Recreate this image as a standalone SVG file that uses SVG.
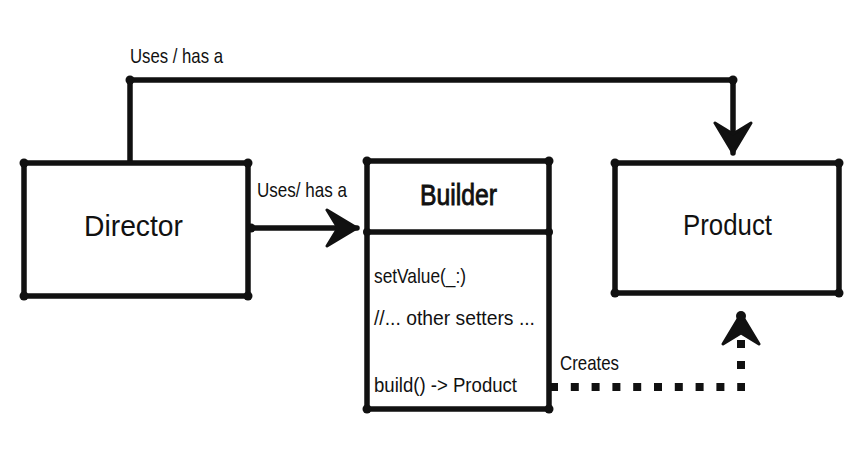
<svg xmlns="http://www.w3.org/2000/svg" width="868" height="458" viewBox="0 0 868 458">
  <style>
    .box { fill: #ffffff; stroke: #111; stroke-width: 5.5; stroke-linejoin: round; stroke-linecap: round; }
    .dot { fill: #111; }
    .line { fill: none; stroke: #111; stroke-width: 5.5; stroke-linejoin: round; stroke-linecap: round; }
    .dash { fill: none; stroke: #111; stroke-width: 8; stroke-linecap: butt; }
    .t { font-family: "Liberation Sans", Arial, sans-serif; fill: #111; }
    .big { font-size: 30px; }
    .small { font-size: 21px; }
  </style>
  <defs>
    <marker id="arrow" viewBox="-2 -2 34 40" refX="30" refY="18" markerWidth="34" markerHeight="40" markerUnits="userSpaceOnUse" orient="auto">
      <path d="M0,0 L30,18 L0,36 L11,18 Z" fill="#111" stroke="#111" stroke-width="3" stroke-linejoin="round"/>
    </marker>
  </defs>
  <rect width="868" height="458" fill="#ffffff"/>

  <g id="connectors">
    <g id="director-product">
      <path class="line" d="M130,161 V80 H733 V153" marker-end="url(#arrow)"/>
      <circle class="dot" cx="130" cy="80" r="4.5"/>
      <circle class="dot" cx="733" cy="80" r="4.5"/>
      <text class="t small" x="130" y="63" textLength="93" lengthAdjust="spacingAndGlyphs">Uses / has a</text>
    </g>
    <g id="director-builder">
      <path class="line" d="M249,228 H357" marker-end="url(#arrow)"/>
      <circle class="dot" cx="251" cy="228" r="4.5"/>
      <text class="t small" x="257" y="197" textLength="90" lengthAdjust="spacingAndGlyphs">Uses/ has a</text>
    </g>
    <g id="builder-product">
      <path class="dash" d="M550,387 H745" stroke-dasharray="8 12.8"/>
      <path class="dash" d="M741,369 V314" stroke-dasharray="8 13"/>
      <path class="line" d="M741,330 V314" marker-end="url(#arrow)" style="stroke-width:0"/>
      <circle class="dot" cx="741" cy="316" r="5"/>
      <text class="t small" x="560" y="370" textLength="59" lengthAdjust="spacingAndGlyphs">Creates</text>
    </g>
  </g>

  <g id="director">
    <rect class="box" x="24" y="163" width="224" height="133"/>
    <circle class="dot" cx="24" cy="163" r="4.5"/>
    <circle class="dot" cx="248" cy="163" r="4.5"/>
    <circle class="dot" cx="24" cy="296" r="4.5"/>
    <circle class="dot" cx="248" cy="296" r="4.5"/>
    <text class="t big" x="84" y="236" textLength="99" lengthAdjust="spacingAndGlyphs">Director</text>
  </g>

  <g id="builder">
    <rect class="box" x="367" y="161" width="182" height="248"/>
    <line class="line" x1="367" y1="232" x2="549" y2="232"/>
    <circle class="dot" cx="367" cy="161" r="4.5"/>
    <circle class="dot" cx="549" cy="161" r="4.5"/>
    <circle class="dot" cx="367" cy="409" r="4.5"/>
    <circle class="dot" cx="549" cy="409" r="4.5"/>
    <circle class="dot" cx="367" cy="232" r="4"/>
    <circle class="dot" cx="549" cy="232" r="4"/>
    <text class="t big" x="420" y="205" stroke="#111" stroke-width="0.9" textLength="77" lengthAdjust="spacingAndGlyphs">Builder</text>
    <text class="t small" x="374" y="283" textLength="92" lengthAdjust="spacingAndGlyphs">setValue(_:)</text>
    <text class="t small" x="374" y="325" textLength="161" lengthAdjust="spacingAndGlyphs">//... other setters ...</text>
    <text class="t small" x="374" y="392" textLength="143" lengthAdjust="spacingAndGlyphs">build() -&gt; Product</text>
  </g>

  <g id="product">
    <rect class="box" x="615" y="163" width="224" height="130"/>
    <circle class="dot" cx="615" cy="163" r="4.5"/>
    <circle class="dot" cx="839" cy="163" r="4.5"/>
    <circle class="dot" cx="615" cy="293" r="4.5"/>
    <circle class="dot" cx="839" cy="293" r="4.5"/>
    <text class="t big" x="683" y="235" textLength="89" lengthAdjust="spacingAndGlyphs">Product</text>
  </g>
</svg>
